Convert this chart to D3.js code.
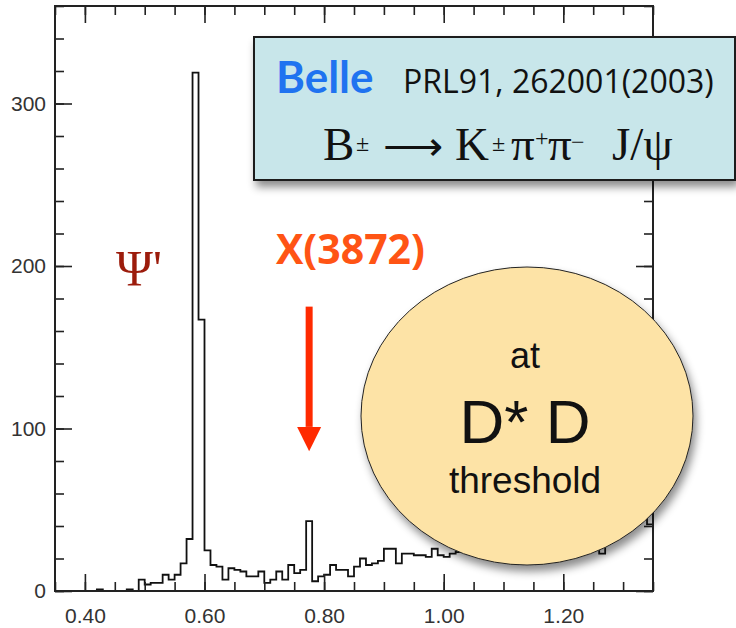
<!DOCTYPE html>
<html>
<head>
<meta charset="utf-8">
<script src="https://cdn.jsdelivr.net/npm/d3@7"></script>
<style>
  html, body { margin: 0; padding: 0; background: #fff; }
  svg { display: block; }
</style>
</head>
<body>
<svg id="chart" width="736" height="628"></svg>
<script>
// ---------------- DATA ----------------
// histogram bins: lower edges 0.35 ... 1.34, width 0.01 (M(pi+pi-J/psi) - M(J/psi), GeV)
const binLow = d3.range(100).map(i => +(0.35 + i * 0.01).toFixed(2));
const binWidth = 0.01;
const counts = [
  0, 0, 0, 0, 0, 0, 0, 1, 0, 0,      // 0.35 - 0.44
  0, 0, 1, 0, 7, 4, 5, 5, 10, 7,     // 0.45 - 0.54
  10, 17, 32, 319, 167, 25, 16, 15, 7, 14, // 0.55 - 0.64
  13, 12, 9, 9, 12, 5, 7, 12, 7, 16, // 0.65 - 0.74
  11, 13, 43, 6, 9, 10, 16, 13, 13, 9, // 0.75 - 0.84
  15, 20, 16, 17, 18.5, 26, 26, 17, 23, 23, // 0.85 - 0.94
  22, 22, 21, 26, 22, 21, 23, 24, 27, 25, // 0.95 - 1.04
  28, 26, 30, 27, 29, 32, 28, 31, 33, 30, // 1.05 - 1.14
  34, 32, 35, 31, 36, 34, 33, 37, 35, 38, // 1.15 - 1.24
  36, 23, 38, 41, 37, 43, 39, 44, 48, 41  // 1.25 - 1.34
];
const xTickValues = [0.40, 0.60, 0.80, 1.00, 1.20];
const xTickLabels = ["0.40", "0.60", "0.80", "1.00", "1.20"];
const xMinorTicks = d3.range(0.35, 1.351, 0.05).map(v => +v.toFixed(2));
const yTickValues = [0, 100, 200, 300];
const yTickLabels = ["0", "100", "200", "300"];
const yMinorTicks = d3.range(0, 361, 20);
const x3872Mass = 0.775;

// ---------------- LAYOUT ----------------
const svg = d3.select("#chart");
const X0 = 55, X1 = 653, Y0 = 591, Y1 = 6;
const x = d3.scaleLinear().domain([0.35, 1.35]).range([X0, X1]);
const y = d3.scaleLinear().domain([0, 360]).range([Y0, Y1]);

const defs = svg.append("defs");
const sh = defs.append("filter").attr("id", "shadow")
  .attr("x", "-20%").attr("y", "-20%").attr("width", "150%").attr("height", "150%");
sh.append("feDropShadow").attr("dx", 3).attr("dy", 6).attr("stdDeviation", 4)
  .attr("flood-color", "#000").attr("flood-opacity", 0.45);

const tickFont = "'Liberation Sans', Arial, Helvetica, sans-serif";

// ---------------- HISTOGRAM ----------------
const pts = binLow.map((b, i) => [b, counts[i]]);
pts.push([binLow[binLow.length - 1] + binWidth, counts[counts.length - 1]]);
const line = d3.line().x(d => x(d[0])).y(d => y(d[1])).curve(d3.curveStepAfter);
svg.append("path").attr("d", line(pts))
  .attr("fill", "none").attr("stroke", "#111").attr("stroke-width", 1.8)
  .attr("stroke-linejoin", "miter");

// ---------------- AXES ----------------
function styleAxis(g) {
  g.select(".domain").remove();
  g.selectAll(".tick line").attr("stroke", "#222").attr("stroke-width", 1.6);
  g.selectAll("text").attr("font-family", tickFont).attr("font-size", 21).attr("fill", "#333");
}
svg.append("g").attr("transform", `translate(0,${Y0})`)
  .call(d3.axisBottom(x).tickValues(xMinorTicks).tickSize(-9).tickFormat(""))
  .call(styleAxis);
svg.append("g").attr("transform", `translate(0,${Y0})`)
  .call(d3.axisBottom(x).tickValues(xTickValues).tickSize(-17).tickPadding(17)
    .tickFormat((d, i) => xTickLabels[i]))
  .call(styleAxis);
svg.append("g").attr("transform", `translate(0,${Y1})`)
  .call(d3.axisTop(x).tickValues(xMinorTicks).tickSize(-9).tickFormat(""))
  .call(styleAxis);
svg.append("g").attr("transform", `translate(0,${Y1})`)
  .call(d3.axisTop(x).tickValues(xTickValues).tickSize(-17).tickFormat(""))
  .call(styleAxis);
svg.append("g").attr("transform", `translate(${X0},0)`)
  .call(d3.axisLeft(y).tickValues(yMinorTicks).tickSize(-9).tickFormat(""))
  .call(styleAxis);
svg.append("g").attr("transform", `translate(${X0},0)`)
  .call(d3.axisLeft(y).tickValues(yTickValues).tickSize(-17).tickPadding(9)
    .tickFormat((d, i) => yTickLabels[i]))
  .call(styleAxis);
svg.append("g").attr("transform", `translate(${X1},0)`)
  .call(d3.axisRight(y).tickValues(yMinorTicks).tickSize(-9).tickFormat(""))
  .call(styleAxis);
svg.append("g").attr("transform", `translate(${X1},0)`)
  .call(d3.axisRight(y).tickValues(yTickValues).tickSize(-17).tickFormat(""))
  .call(styleAxis);
svg.append("rect").attr("x", X0).attr("y", Y1).attr("width", X1 - X0).attr("height", Y0 - Y1)
  .attr("fill", "none").attr("stroke", "#222").attr("stroke-width", 2);

// ---------------- ANNOTATIONS ----------------
svg.append("rect").attr("x", 254).attr("y", 37).attr("width", 481).attr("height", 143)
  .attr("fill", "#c8e6ea").attr("stroke", "#1a1a1a").attr("stroke-width", 2)
  .attr("filter", "url(#shadow)");
svg.append("text").attr("x", 276).attr("y", 93)
  .attr("font-family", "Lato, 'Open Sans', sans-serif").attr("font-weight", 700)
  .attr("font-size", 44).attr("fill", "#1f73f0").text("Belle");
svg.append("text").attr("x", 403).attr("y", 93)
  .attr("font-family", "'Open Sans', sans-serif").attr("font-size", 32)
  .attr("fill", "#111").text("PRL91, 262001(2003)");

const serif = "'Liberation Serif', 'Times New Roman', serif";
const t2 = svg.append("text").attr("font-family", serif).attr("fill", "#111");
const pieces = [
  { t: "B", x: 323, y: 160, s: 47 },
  { t: "±", x: 356, y: 151, s: 24 },
  { t: "⟶", x: 383, y: 160, s: 42 },
  { t: "K", x: 455, y: 160, s: 47 },
  { t: "±", x: 492, y: 151, s: 24 },
  { t: "π", x: 511, y: 160, s: 47 },
  { t: "+", x: 535, y: 146, s: 24 },
  { t: "π", x: 548, y: 160, s: 47 },
  { t: "−", x: 571, y: 150, s: 24 },
  { t: "J/ψ", x: 612, y: 160, s: 47 }
];
pieces.forEach(p => t2.append("tspan").attr("x", p.x).attr("y", p.y).attr("font-size", p.s).text(p.t));

svg.append("text").attr("x", 116).attr("y", 285)
  .attr("font-family", serif).attr("font-size", 50)
  .attr("fill", "#9c1c0c").text("Ψ'");

svg.append("text").attr("x", 276).attr("y", 264)
  .attr("font-family", "'Open Sans', sans-serif").attr("font-weight", 700)
  .attr("font-size", 41).attr("fill", "#ff5414").text("X(3872)");
const ax = x(x3872Mass);
svg.append("line").attr("x1", ax).attr("x2", ax).attr("y1", y(175)).attr("y2", y(101))
  .attr("stroke", "#ff2a00").attr("stroke-width", 7);
svg.append("path")
  .attr("d", `M${ax - 12},${y(101)} L${ax + 12},${y(101)} L${ax},${y(86)} Z`)
  .attr("fill", "#ff2a00");

svg.append("ellipse").attr("cx", 527).attr("cy", 416).attr("rx", 166).attr("ry", 149)
  .attr("fill", "#fde3a6").attr("stroke", "#222").attr("stroke-width", 1)
  .attr("filter", "url(#shadow)");
const cf = "'Liberation Sans', Arial, Helvetica, sans-serif";
svg.append("text").attr("x", 525).attr("y", 368).attr("text-anchor", "middle")
  .attr("font-family", cf).attr("font-size", 36).attr("fill", "#111").text("at");
svg.append("text").attr("x", 525).attr("y", 443).attr("text-anchor", "middle")
  .attr("font-family", cf).attr("font-size", 62).attr("fill", "#111").text("D* D");
svg.append("text").attr("x", 525).attr("y", 493).attr("text-anchor", "middle")
  .attr("font-family", cf).attr("font-size", 37).attr("fill", "#111").text("threshold");
</script>
</body>
</html>
